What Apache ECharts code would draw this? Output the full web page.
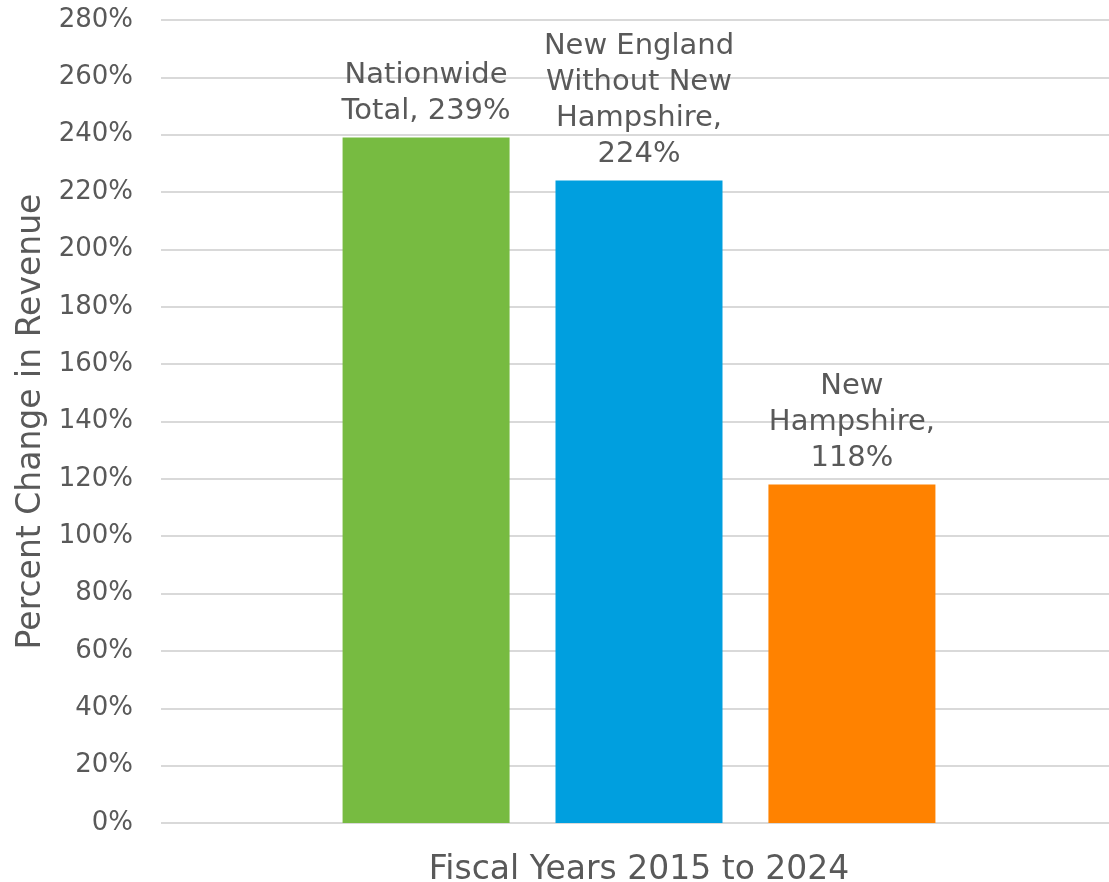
<!DOCTYPE html>
<html>
<head>
<meta charset="utf-8">
<script src="https://cdn.jsdelivr.net/npm/echarts@6/dist/echarts.min.js"></script>
<style>
html,body{margin:0;padding:0;background:#fff;}
#chart{width:1109px;height:882px;}
</style>
</head>
<body>
<div id="chart"></div>
<script>
const categories = ['Fiscal Years 2015 to 2024'];
const seriesNames = ['Nationwide Total', 'New England Without New Hampshire', 'New Hampshire'];
const seriesValues = [239, 224, 118];
const seriesColors = ['#77bb41', '#009fdf', '#ff8200'];
const labelLines = [
  ['Nationwide', 'Total, 239%'],
  ['New England', 'Without New', 'Hampshire,', '224%'],
  ['New', 'Hampshire,', '118%']
];
const yTickValues = [0, 20, 40, 60, 80, 100, 120, 140, 160, 180, 200, 220, 240, 260, 280];

const FONT = '"DejaVu Sans", sans-serif';
const TEXT = '#595959';

const chart = echarts.init(document.getElementById('chart'), null, {renderer: 'canvas'});
const series = seriesNames.map((name, i) => ({
  name: name,
  type: 'bar',
  data: [seriesValues[i]],
  barWidth: 167,
  barGap: '27.5%',
  itemStyle: {color: seriesColors[i]},
  label: {
    show: true,
    position: 'top',
    distance: 8,
    formatter: () => labelLines[i].join('\n'),
    fontFamily: FONT,
    fontSize: 29,
    lineHeight: 36,
    color: TEXT,
    align: 'center'
  }
}));

chart.setOption({
  animation: false,
  backgroundColor: '#ffffff',
  grid: {left: 161, right: -8, top: 20, bottom: 59, containLabel: false, outerBoundsMode: 'none'},
  xAxis: {
    type: 'category',
    data: categories,
    axisLine: {show: false},
    axisTick: {show: false},
    axisLabel: {show: false},
    name: categories[0],
    nameLocation: 'middle',
    nameGap: 31,
    nameTextStyle: {fontFamily: FONT, fontSize: 33, color: TEXT}
  },
  yAxis: {
    type: 'value',
    min: yTickValues[0],
    max: yTickValues[yTickValues.length - 1],
    interval: 20,
    name: 'Percent Change in Revenue',
    nameLocation: 'middle',
    nameGap: 113,
    nameTextStyle: {fontFamily: FONT, fontSize: 33, color: TEXT},
    axisLine: {show: false},
    axisTick: {show: false},
    axisLabel: {
      formatter: v => v + '%',
      fontFamily: FONT,
      fontSize: 26,
      color: TEXT,
      margin: 28
    },
    splitLine: {lineStyle: {color: '#d9d9d9', width: 2}}
  },
  series: series
});
</script>
</body>
</html>
